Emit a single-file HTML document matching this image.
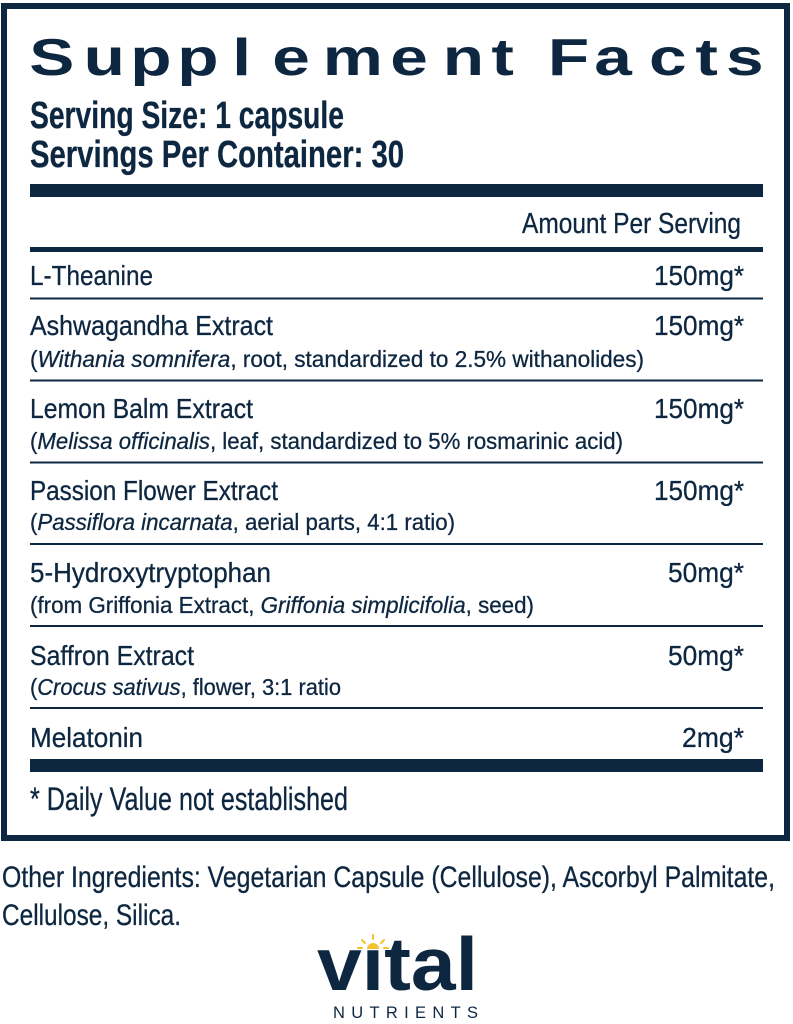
<!DOCTYPE html>
<html><head><meta charset="utf-8"><style>
html,body{margin:0;padding:0;background:#fff;}
svg{display:block;}
text{fill:#0e2741;}
.n{font-family:"Liberation Sans Narrow","Liberation Sans",sans-serif;stroke:#0e2741;stroke-width:0.3;}
.b{font-family:"Liberation Sans",sans-serif;font-weight:bold;}
</style></head><body>
<svg width="793" height="1024" viewBox="0 0 793 1024" xmlns="http://www.w3.org/2000/svg">
<rect x="0" y="0" width="793" height="1024" fill="#fff"/>
<!-- box -->
<rect x="4" y="6" width="783" height="832" fill="none" stroke="#0e2741" stroke-width="6"/>
<!-- title -->
<g transform="scale(1.3,1)">
<text class="b" y="75" font-size="52" x="22.46 64.38 100.23 136.38 178.69 209.46 248.23 300.23 340.54 378 400 421.46 457.15 499.23 534.92 558.46">Supplement Facts</text>
</g>
<text class="n" x="30" y="128" font-size="38" font-weight="bold" textLength="314" lengthAdjust="spacingAndGlyphs">Serving Size: 1 capsule</text>
<text class="n" x="30" y="167" font-size="38" font-weight="bold" textLength="374" lengthAdjust="spacingAndGlyphs">Servings Per Container: 30</text>
<rect x="30" y="184" width="733" height="13" fill="#0e2741"/>
<text class="n" x="522" y="233" font-size="28.5" textLength="219" lengthAdjust="spacingAndGlyphs">Amount Per Serving</text>
<rect x="30" y="247" width="733" height="5" fill="#0e2741"/>

<!-- rows -->
<text class="n" x="30" y="285" font-size="28" textLength="123" lengthAdjust="spacingAndGlyphs">L-Theanine</text>
<text class="n" x="744" y="285" font-size="28" text-anchor="end" textLength="90" lengthAdjust="spacingAndGlyphs">150mg*</text>
<rect x="30" y="297.5" width="733" height="2" fill="#0e2741"/>

<text class="n" x="30" y="335" font-size="28" textLength="243" lengthAdjust="spacingAndGlyphs">Ashwagandha Extract</text>
<text class="n" x="744" y="335" font-size="28" text-anchor="end" textLength="90" lengthAdjust="spacingAndGlyphs">150mg*</text>
<text class="n" x="30" y="367" font-size="23.5" textLength="614" lengthAdjust="spacingAndGlyphs">(<tspan font-style="italic">Withania somnifera</tspan>, root, standardized to 2.5% withanolides)</text>
<rect x="30" y="379.5" width="733" height="2" fill="#0e2741"/>

<text class="n" x="30" y="418" font-size="28" textLength="223" lengthAdjust="spacingAndGlyphs">Lemon Balm Extract</text>
<text class="n" x="744" y="418" font-size="28" text-anchor="end" textLength="90" lengthAdjust="spacingAndGlyphs">150mg*</text>
<text class="n" x="30" y="449" font-size="23.5" textLength="593" lengthAdjust="spacingAndGlyphs">(<tspan font-style="italic">Melissa officinalis</tspan>, leaf, standardized to 5% rosmarinic acid)</text>
<rect x="30" y="461.5" width="733" height="2" fill="#0e2741"/>

<text class="n" x="30" y="500" font-size="28" textLength="248" lengthAdjust="spacingAndGlyphs">Passion Flower Extract</text>
<text class="n" x="744" y="500" font-size="28" text-anchor="end" textLength="90" lengthAdjust="spacingAndGlyphs">150mg*</text>
<text class="n" x="30" y="530" font-size="23.5" textLength="425" lengthAdjust="spacingAndGlyphs">(<tspan font-style="italic">Passiflora incarnata</tspan>, aerial parts, 4:1 ratio)</text>
<rect x="30" y="543" width="733" height="2" fill="#0e2741"/>

<text class="n" x="30" y="582" font-size="28" textLength="241" lengthAdjust="spacingAndGlyphs">5-Hydroxytryptophan</text>
<text class="n" x="744" y="582" font-size="28" text-anchor="end" textLength="76" lengthAdjust="spacingAndGlyphs">50mg*</text>
<text class="n" x="30" y="613" font-size="23.5" textLength="504" lengthAdjust="spacingAndGlyphs">(from Griffonia Extract, <tspan font-style="italic">Griffonia simplicifolia</tspan>, seed)</text>
<rect x="30" y="625" width="733" height="2" fill="#0e2741"/>

<text class="n" x="30" y="665" font-size="28" textLength="164" lengthAdjust="spacingAndGlyphs">Saffron Extract</text>
<text class="n" x="744" y="665" font-size="28" text-anchor="end" textLength="76" lengthAdjust="spacingAndGlyphs">50mg*</text>
<text class="n" x="30" y="695" font-size="23.5" textLength="311" lengthAdjust="spacingAndGlyphs">(<tspan font-style="italic">Crocus sativus</tspan>, flower, 3:1 ratio</text>
<rect x="30" y="707" width="733" height="2" fill="#0e2741"/>

<text class="n" x="30" y="747" font-size="28" textLength="113" lengthAdjust="spacingAndGlyphs">Melatonin</text>
<text class="n" x="744" y="747" font-size="28" text-anchor="end" textLength="62" lengthAdjust="spacingAndGlyphs">2mg*</text>
<rect x="30" y="759" width="733" height="13" fill="#0e2741"/>

<text class="n" x="30" y="810" font-size="32" textLength="318" lengthAdjust="spacingAndGlyphs">* Daily Value not established</text>

<!-- other ingredients -->
<text class="n" x="2" y="887" font-size="29.5" textLength="773" lengthAdjust="spacingAndGlyphs">Other Ingredients: Vegetarian Capsule (Cellulose), Ascorbyl Palmitate,</text>
<text class="n" x="2" y="925" font-size="29.5" textLength="179" lengthAdjust="spacingAndGlyphs">Cellulose, Silica.</text>

<!-- logo -->
<text class="b" x="317" y="990" font-size="75" textLength="161" lengthAdjust="spacingAndGlyphs">vital</text>
<rect x="362" y="928" width="22" height="19.5" fill="#fff"/>
<path d="M367 949 A6 6 0 0 1 379 949 Z" fill="#f5c12e"/>
<g stroke="#f5c12e" stroke-width="2" stroke-linecap="round">
<line x1="358" y1="948" x2="362" y2="948"/>
<line x1="362" y1="940" x2="365" y2="943"/>
<line x1="373" y1="935" x2="373" y2="939"/>
<line x1="384" y1="940" x2="381" y2="943"/>
<line x1="388" y1="948" x2="384" y2="948"/>
</g>
<text x="333" y="1018" font-family="Liberation Sans, sans-serif" font-size="16.5" textLength="145" lengthAdjust="spacing">NUTRIENTS</text>
</svg>
</body></html>
